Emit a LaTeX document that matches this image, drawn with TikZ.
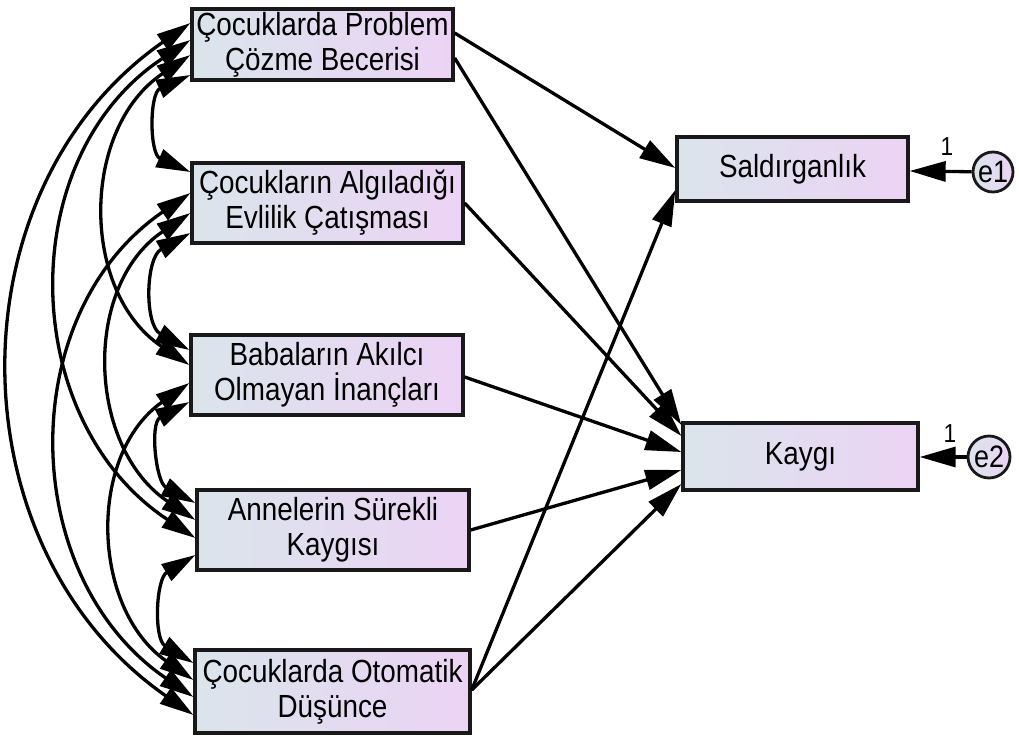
\documentclass[tikz,border=0pt]{standalone}
\usepackage{fontspec}
\setmainfont{Liberation Sans}
\newfontfamily\amosfont[FakeStretch=0.87]{Liberation Sans}
\usetikzlibrary{arrows.meta}
\definecolor{boxL}{RGB}{218,229,235}
\definecolor{boxR}{RGB}{236,211,245}
\definecolor{edgec}{RGB}{25,25,25}
\begin{document}
\begin{tikzpicture}[x=1pt,y=-1pt,
  var/.style={draw=edgec, line width=3.3pt, left color=boxL, right color=boxR,
    inner sep=0pt, align=center, text=black,
    font=\amosfont\fontsize{32}{35}\selectfont},
  errnode/.style={draw=edgec, line width=2.8pt, circle, left color=boxL, right color=boxR,
    inner sep=0pt, minimum size=40pt, font=\amosfont\fontsize{31}{30}\selectfont},
  onelbl/.style={inner sep=0pt, font=\amosfont\fontsize{26}{26}\selectfont},
  pathar/.style={-{Triangle[length=36pt,width=20pt]}, line width=3.3pt},
  cov/.style={{Triangle[length=34pt,width=19pt]}-{Triangle[length=34pt,width=19pt]}, line width=3.3pt}]
\useasboundingbox[fill=white] (0,0) rectangle (1019,736);

% exogenous variables
\node[var, minimum width=261pt, minimum height=71pt] (b1) at (322.5,44.5) {Çocuklarda Problem\\Çözme Becerisi};
\node[var, minimum width=271pt, minimum height=80pt] (b2) at (327.5,203) {Çocukların Algıladığı\\Evlilik Çatışması};
\node[var, minimum width=272pt, minimum height=80pt] (b3) at (327,375) {Babaların Akılcı\\Olmayan İnançları};
\node[var, minimum width=272pt, minimum height=80pt] (b4) at (333,530) {Annelerin Sürekli\\Kaygısı};
\node[var, minimum width=275pt, minimum height=83pt] (b5) at (332.5,691.5) {Çocuklarda Otomatik\\Düşünce};

% endogenous variables
\node[var, minimum width=231pt, minimum height=64pt] (sal) at (792.5,169) {Saldırganlık};
\node[var, minimum width=235pt, minimum height=67pt] (kay) at (800.5,456.5) {Kaygı};

% error terms
\node[errnode] (e1) at (993,172) {e1};
\node[errnode, minimum size=42pt] (e2) at (989,457) {e2};
\node[onelbl] (l1) at (947,147) {1};
\node[onelbl] (l2) at (950,434) {1};

\draw[pathar] (e1) -- (sal.east |- 0,171);
\draw[pathar] (e2) -- (kay.east |- 0,457);

% directed paths
\draw[pathar] (b1.east |- 0,33) -- (sal.west |- 0,168);
\draw[pathar] (b1.east |- 0,58) -- (kay.west |- 0,425);
\draw[pathar] (b2.east |- 0,203) -- (kay.west |- 0,436);
\draw[pathar] (b3.east |- 0,377) -- (kay.west |- 0,452);
\draw[pathar] (b4.east |- 0,530) -- (kay.west |- 0,470);
\draw[pathar] (b5.east |- 0,690) -- (sal.west |- 0,190);
\draw[pathar] (b5.east |- 0,690) -- (kay.west |- 0,484);

% covariances
\draw[cov] (b1.west |- 0,75) .. controls (149.3,93.3) and (149.3,153.7) .. (b2.west |- 0,172);
\draw[cov] (b2.west |- 0,233) .. controls (145.3,258) and (144.3,325) .. (b3.west |- 0,350);
\draw[cov] (b3.west |- 0,402) .. controls (149.7,423) and (155.7,482) .. (b4.west |- 0,503);
\draw[cov] (b4.west |- 0,555) .. controls (155.7,579) and (153.7,639) .. (b5.west |- 0,663);
\draw[cov] (b1.west |- 0,55) .. controls (80.7,128.4) and (79.7,291.6) .. (b3.west |- 0,365);
\draw[cov] (b2.west |- 0,213) .. controls (82,285.8) and (87,447.2) .. (b4.west |- 0,520);
\draw[cov] (b3.west |- 0,383) .. controls (87,454.7) and (91,608.3) .. (b5.west |- 0,680);
\draw[cov] (b1.west |- 0,40) .. controls (12.7,157.5) and (17.7,420.5) .. (b4.west |- 0,538);
\draw[cov] (b2.west |- 0,193) .. controls (14,313.8) and (17,576.2) .. (b5.west |- 0,697);
\draw[cov] (b1.west |- 0,23) .. controls (-50,190.2) and (-47,547.8) .. (b5.west |- 0,715);
\end{tikzpicture}
\end{document}
